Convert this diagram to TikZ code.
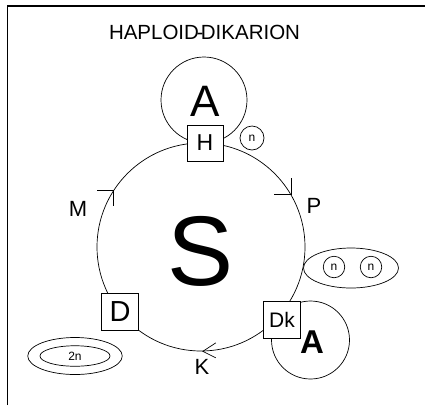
\documentclass[tikz,border=0pt]{standalone}
\usepackage{fontspec}
\setmainfont{Liberation Sans}
\usetikzlibrary{calc}
\newcommand{\fs}[1]{\fontsize{#1}{#1}\selectfont}
\tikzset{
  line/.style={draw=black, line width=0.7pt},
  ring/.style={circle, draw=black, line width=0.7pt, inner sep=0pt},
  oval/.style={ellipse, draw=black, line width=0.7pt, inner sep=0pt},
  stagebox/.style={rectangle, draw=black, line width=0.7pt, fill=white, inner sep=0pt, minimum size=37pt},
  lbl/.style={inner sep=0pt, text=black},
}
\usetikzlibrary{shapes.geometric}
\begin{document}
\begin{tikzpicture}[x=1pt, y=-1pt]
  \useasboundingbox (0,0) rectangle (425,405);
  % frame on the top and left
  \draw[line width=1.8pt] (7.5,405) -- (7.5,5.8) -- (425,5.8);

  % title
  \node[lbl] (title) at (204.5,32) {\fs{20.5}HAPLOID\kern-0.12em-\kern-0.12em DIKARION};

  % life cycle
  \node[ring, minimum size=208pt] (cyc) at (201,247) {};
  \node[lbl] (S) at (201,251) {\fs{99}S};

  % haploid stage at the top
  \node[ring, minimum size=86pt] (Atop) at (204,100) {};
  \node[lbl] (Atxt) at (205,101) {\fs{44}A};
  \node[stagebox, minimum size=36pt] (H) at (205,143) {\fs{23}H};
  \node[ring, minimum size=24pt] (n1) at (252,138) {\fs{12}n};

  % direction marks on the cycle
  \coordinate (tP) at (cyc.30.7);
  \coordinate (tM) at (cyc.147.5);
  \coordinate (tK) at (cyc.-89.5);
  \draw[line] ($(tP)+(-17,0)$) -- (tP) -- ($(tP)+(0,-17)$);
  \draw[line] ($(tM)+(-16,0)$) -- (tM) -- ($(tM)+(0,16)$);
  \draw[line] ($(tK)+(13,-8.5)$) -- (tK) -- ($(tK)+(13,6.5)$);

  \node[lbl] (P) at (314,206) {\fs{22}P};
  \node[lbl] (M) at (78,209) {\fs{22}M};
  \node[lbl] (K) at (202,367) {\fs{22}K};

  % dikaryotic pair
  \node[oval, minimum width=95pt, minimum height=40pt] (pair) at (351,268) {};
  \node[ring, minimum size=21.5pt] (n2) at (334,267) {\fs{12}n};
  \node[ring, minimum size=21.5pt] (n3) at (371,267) {\fs{12}n};

  % dikaryon stage
  \node[ring, minimum size=78pt] (Abot) at (310.5,340) {};
  \node[lbl] (Abtxt) at (312,342) {\fs{33}\bfseries A};
  \node[stagebox] (Dk) at (282,320) {\fs{21}Dk};

  % diploid stage
  \node[stagebox] (D) at (120,311.5) {\fs{29}D};
  \node[oval, minimum width=94.5pt, minimum height=37pt] (z2) at (75,356) {};
  \node[oval, minimum width=70pt, minimum height=20.5pt] (z1) at (z2.center) {\fs{12}2n};
\end{tikzpicture}
\end{document}
